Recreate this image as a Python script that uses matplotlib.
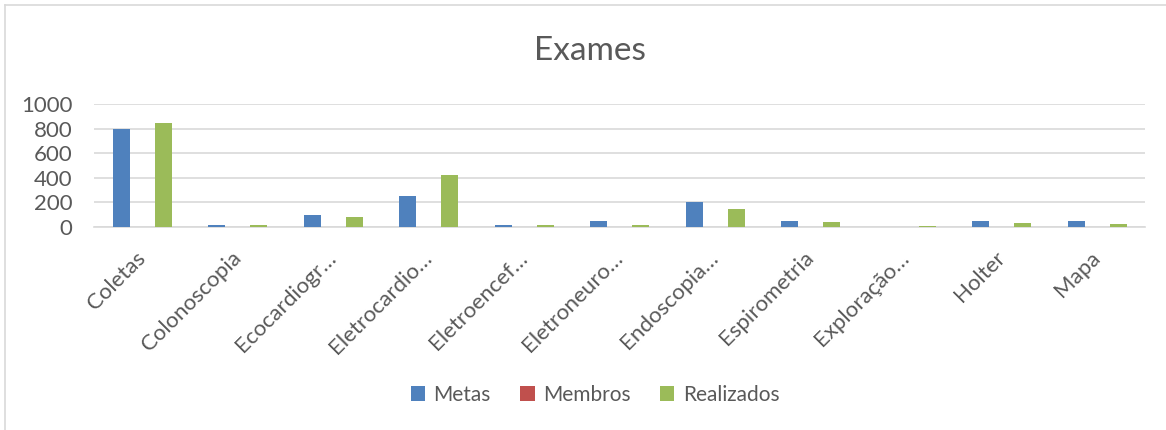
import matplotlib.pyplot as plt
import numpy as np
from matplotlib.lines import Line2D
from matplotlib.patches import Patch

plt.rcParams['font.family'] = ['Lato', 'DejaVu Sans']

# data
categorias = ['Coletas', 'Colonoscopia', 'Ecocardiogr…', 'Eletrocardio…',
              'Eletroencef…', 'Eletroneuro…', 'Endoscopia…', 'Espirometria',
              'Exploração…', 'Holter', 'Mapa']
metas = [800, 20, 100, 250, 20, 50, 200, 50, 0, 50, 50]
membros = [0, 0, 0, 0, 0, 0, 0, 0, 0, 0, 0]
realizados = [850, 14, 80, 420, 18, 20, 150, 38, 12, 30, 27]
yticks = [0, 200, 400, 600, 800, 1000]

cor_texto = '#595959'
cores = ['#4F81BD', '#C0504D', '#9BBB59']
nomes = ['Metas', 'Membros', 'Realizados']

fig = plt.figure(figsize=(11.66, 4.30), dpi=100)
ax = fig.add_axes([0.081, 0.472, 0.901, 0.286])

x = np.arange(len(categorias))
w = 0.175
for i, (vals, cor) in enumerate(zip([metas, membros, realizados], cores)):
    ax.bar(x + (i - 1) * 0.22, vals, width=w, color=cor, zorder=3)

ax.set_xlim(-0.5, len(categorias) - 0.5)
ax.set_ylim(0, 1000)
ax.set_yticks(yticks)
ax.yaxis.grid(True, color='#D9D9D9', linewidth=1.2, zorder=0)
for s in ['top', 'right', 'left']:
    ax.spines[s].set_visible(False)
ax.spines['bottom'].set_color('#D9D9D9')
ax.spines['bottom'].set_linewidth(1.2)
ax.tick_params(axis='both', length=0, colors=cor_texto)
ax.tick_params(axis='y', labelsize=16, pad=16)

ax.set_xticks(x)
ax.set_xticklabels(categorias, rotation=45, ha='right', va='center',
                   rotation_mode='anchor', fontsize=16, color=cor_texto)
ax.tick_params(axis='x', pad=20)

fig.text(590 / 1166, 1 - 51 / 430, 'Exames', ha='center', va='center',
         fontsize=24, color=cor_texto)

handles = [Patch(facecolor=c, edgecolor='none') for c in cores]
fig.legend(handles, nomes, loc='center', bbox_to_anchor=(595 / 1166, 1 - 395 / 430),
           ncol=3, frameon=False, fontsize=15, labelcolor=cor_texto,
           handlelength=0.7, handleheight=0.7, handletextpad=0.4, columnspacing=1.4)

# chart border (only top and left edges visible in the crop)
fig.add_artist(Line2D([5 / 1166, 1], [1 - 5 / 430, 1 - 5 / 430], color='#D9D9D9', lw=1.2))
fig.add_artist(Line2D([5 / 1166, 5 / 1166], [0, 1 - 5 / 430], color='#D9D9D9', lw=1.2))

fig.savefig('out.png', dpi=100)
